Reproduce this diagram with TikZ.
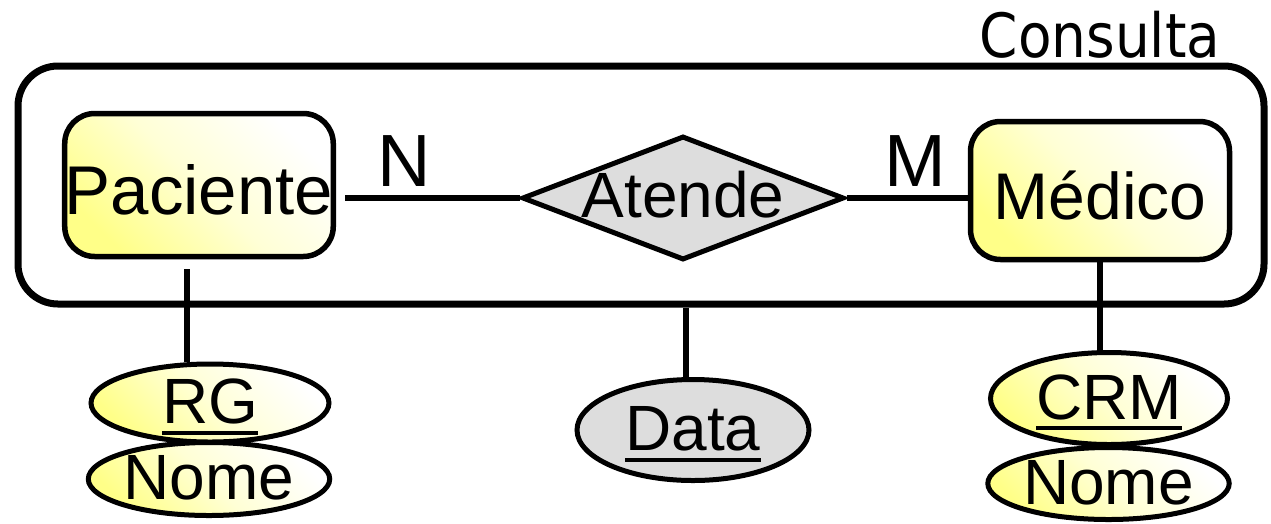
\documentclass[tikz,border=0pt]{standalone}
\usepackage{fontspec}
\setmainfont{Liberation Sans}
\newfontfamily\consultafont[FakeStretch=0.9]{DejaVu Sans}
\usetikzlibrary{shapes.geometric}
\definecolor{erYellow}{HTML}{FFFF88}
\definecolor{erGray}{HTML}{DDDDDD}
\newsavebox\keybox
\newcommand{\keyattr}[1]{\sbox\keybox{#1}\rlap{\rule[-11pt]{\wd\keybox}{4pt}}\usebox\keybox}
\tikzset{
  entity/.style={rectangle, draw, line width=5.5pt, rounded corners=30pt, inner sep=0pt,
    top color=white, bottom color=erYellow, middle color=erYellow!35, shading angle=-45,
    text height=58pt, text depth=0pt, font=\fontsize{68}{72}\selectfont},
  ellipsebase/.style={ellipse, draw, line width=5pt, inner sep=0pt,
    text height=41pt, text depth=0pt, font=\fontsize{64}{68}\selectfont},
  attrib/.style={ellipsebase, top color=white, bottom color=erYellow, middle color=erYellow!35, shading angle=-45},
  relattrib/.style={ellipsebase, fill=erGray},
  relation/.style={diamond, draw, line width=5pt, fill=erGray, inner sep=0pt},
  conn/.style={line width=6.5pt},
  card/.style={anchor=base, font=\fontsize{74}{78}\selectfont},
}
\begin{document}
\begin{tikzpicture}[x=1pt, y=-1pt]
  \useasboundingbox (0,0) rectangle (1271,523);

  % Aggregation
  \node[draw, line width=7pt, rounded corners=40pt, minimum width=1246pt, minimum height=238pt] at (641, 185) (consulta) {};
  \node[anchor=base, font=\consultafont\fontsize{61}{65}\selectfont] at (1100, 57) (consultalbl) {Consulta};

  % Nodes
  \node[entity, font=\fontsize{69}{72}\selectfont, minimum width=268pt, minimum height=143pt] at (199, 185) (paciente) {Paciente};
  \node[entity, font=\fontsize{66}{70}\selectfont, minimum width=259pt, minimum height=138pt] at (1100, 190.5) (medico) {Médico};
  \node[relation, minimum width=322pt, minimum height=124pt] at (683, 198) (atende) {};
  \node[anchor=base, font=\fontsize{64}{68}\selectfont] at ([yshift=-19pt]atende.center) (atendelbl) {Atende};

  \node[attrib, minimum width=238pt, minimum height=78pt] at (210, 403) (rg) {\keyattr{RG}};
  \node[attrib, minimum width=235pt, minimum height=73pt] at (209, 479) (nomep) {Nome};
  \node[relattrib, minimum width=232pt, minimum height=101pt] at (693, 430) (data) {\keyattr{Data}};
  \node[attrib, minimum width=237pt, minimum height=92pt] at (1109, 398.5) (crm) {\keyattr{CRM}};
  \node[attrib, minimum width=236pt, minimum height=72pt] at (1108.5, 483.5) (nomem) {Nome};

  % Cardinalities
  \node[card] at (404, 186) (cardn) {N};
  \node[card] at (915, 186) (cardm) {M};

  % Connectors
  \draw[conn, shorten <=9pt] (paciente.east |- atende.west) -- (atende.west);
  \draw[conn] (atende.east) -- (atende.east -| medico.west);
  \draw[conn] ([xshift=-12pt, yshift=-10pt]paciente.south) -- ([xshift=-12pt]paciente.south |- rg.north);
  \draw[conn] (medico.south) -- (medico.south |- crm.north);
  \draw[conn] ([xshift=-7pt]data.north |- consulta.south) -- ([xshift=-7pt]data.north);
\end{tikzpicture}
\end{document}
